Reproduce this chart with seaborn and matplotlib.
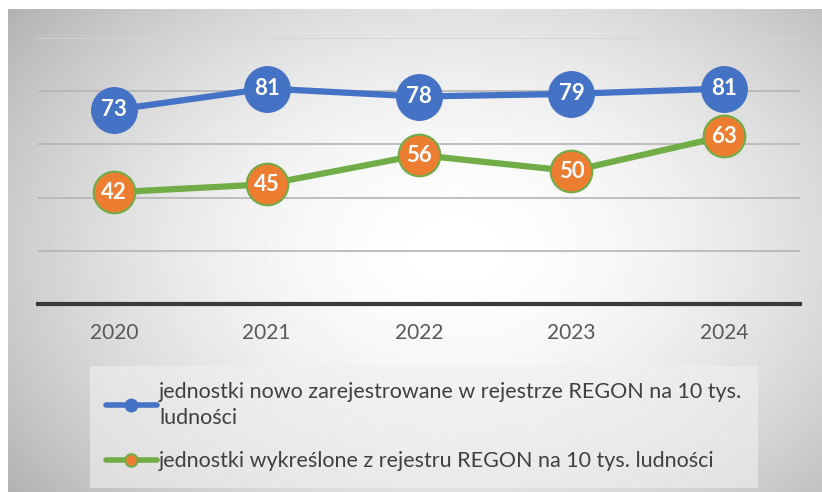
import numpy as np
import pandas as pd
import seaborn as sns
import matplotlib.pyplot as plt
from matplotlib.lines import Line2D

years = ["2020", "2021", "2022", "2023", "2024"]
registered = [73, 81, 78, 79, 81]
removed = [42, 45, 56, 50, 63]
label_registered = "jednostki nowo zarejestrowane w rejestrze REGON na 10 tys.\nludności"
label_removed = "jednostki wykreślone z rejestru REGON na 10 tys. ludności"

BLUE = "#4472c4"
GREEN = "#70ad47"
ORANGE = "#ed7d31"

sns.set_style("white")
plt.rcParams["font.family"] = ["Lato", "DejaVu Sans"]

fig = plt.figure(figsize=(8.22, 4.92), dpi=100)

# gray radial gradient panel behind the chart
bg = fig.add_axes([8 / 822, 0, 1 - 8 / 822, 1 - 9 / 492], zorder=0)
gx, gy = np.meshgrid(np.linspace(0, 1, 400), np.linspace(0, 1, 240))
r = np.sqrt(((gx - 0.55) / 0.62) ** 2 + ((gy - 0.5) / 0.75) ** 2)
shade = 1.0 - 0.25 * np.clip(r, 0, 1.3) ** 1.8
bg.imshow(shade, cmap="gray", vmin=0, vmax=1, aspect="auto", extent=[0, 1, 0, 1])
bg.axis("off")

ax = fig.add_axes([38 / 822, 1 - 304 / 492, 762 / 822, 266 / 492], zorder=1)
ax.patch.set_alpha(0)

df = pd.DataFrame({"year": years, "registered": registered, "removed": removed})

sns.lineplot(data=df, x="year", y="registered", ax=ax, color=BLUE, lw=4.5,
             marker="o", markersize=33, markerfacecolor=BLUE, markeredgecolor=BLUE,
             sort=False, zorder=3)
sns.lineplot(data=df, x="year", y="removed", ax=ax, color=GREEN, lw=4.5,
             marker="o", markersize=30, markerfacecolor=ORANGE, markeredgecolor=GREEN,
             markeredgewidth=1.5, sort=False, zorder=3)

for i, v in enumerate(registered):
    ax.text(i, v, str(v), ha="center", va="center", color="white",
            fontsize=16, fontweight="bold", zorder=5)
for i, v in enumerate(removed):
    ax.text(i, v, str(v), ha="center", va="center", color="white",
            fontsize=16, fontweight="bold", zorder=5)

ax.set_ylim(0, 100)
ax.set_xlim(-0.5, 4.5)
ax.set_yticks([20, 40, 60, 80, 100])
ax.yaxis.grid(True, color="#b4b4b4", lw=1.2)
ax.get_ygridlines()[-1].set_color("#d4d4d4")
ax.set_yticklabels([])
ax.tick_params(axis="both", length=0)
ax.tick_params(axis="x", labelsize=15, labelcolor="#595959", pad=14)
ax.set_xlabel("")
ax.set_ylabel("")
for s in ["top", "right", "left"]:
    ax.spines[s].set_visible(False)
ax.spines["bottom"].set_color("#3a3a3a")
ax.spines["bottom"].set_linewidth(3)

handles = [
    Line2D([], [], color=BLUE, lw=4, marker="o", markersize=9,
           markerfacecolor=BLUE, markeredgecolor=BLUE),
    Line2D([], [], color=GREEN, lw=4, marker="o", markersize=9,
           markerfacecolor=ORANGE, markeredgecolor=GREEN, markeredgewidth=1.5),
]
leg = fig.legend(handles, [label_registered, label_removed],
                 loc="upper left", bbox_to_anchor=(90 / 822, 1 - 366 / 492),
                 frameon=True, fontsize=15.5, handlelength=2.35, handletextpad=0.1,
                 labelspacing=1.1, borderpad=0.75, borderaxespad=0)
leg.get_frame().set_facecolor("#f0f0f0")
leg.get_frame().set_alpha(0.6)
leg.get_frame().set_edgecolor("none")
leg.get_frame().set_boxstyle("square", pad=0)
for t in leg.get_texts():
    t.set_color("#404040")
    t.set_linespacing(1.35)

fig.savefig("out.png", dpi=100)
